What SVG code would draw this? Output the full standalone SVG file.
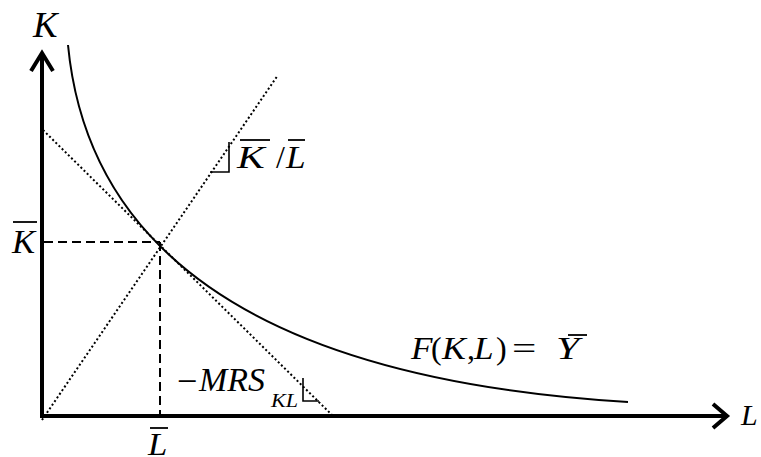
<svg xmlns="http://www.w3.org/2000/svg" width="761" height="457" viewBox="0 0 761 457">
<style>
.ax{stroke:#000;stroke-width:4;fill:none}
.cv{stroke:#000;stroke-width:2;fill:none}
.dot{stroke:#000;stroke-width:2;fill:none;stroke-dasharray:2 2.4}
.dash{stroke:#000;stroke-width:2;fill:none;stroke-dasharray:9 5}
.ra{stroke:#000;stroke-width:1.6;fill:none}
.bar{stroke:#000;stroke-width:1.8}
.it{font-family:"Liberation Serif","Times New Roman",serif;font-style:italic;fill:#000}
.up{font-family:"Liberation Serif","Times New Roman",serif;fill:#000}
</style>
<rect width="761" height="457" fill="#fff"/>
<g id="connectors">
<path class="dot" d="M42,420 L278,75"/>
<path class="dot" d="M43,130 L333,416"/>
<path class="dash" d="M44,242 H160"/>
<path class="dash" d="M160,242 V414"/>
<path class="cv" d="M68,45 C84,212 204,376 628,402"/>
</g>
<g id="axes">
<path class="ax" d="M42,418 V54"/>
<path class="ax" d="M31,71 L42,53 L53,71"/>
<path class="ax" d="M40,416 H725"/>
<path class="ax" d="M713,404 L727,416 L713,428"/>
</g>
<g id="label-K-axis"><text class="it" font-size="35" transform="translate(33,37) scale(1.05,1)">K</text></g>
<g id="label-L-axis"><text class="it" font-size="30" transform="translate(741,425)">L</text></g>
<g id="label-Kbar">
<text class="it" font-size="33" transform="translate(12,253) scale(1.05,1)">K</text>
<line class="bar" x1="13" y1="222" x2="37" y2="222"/>
</g>
<g id="label-Lbar">
<text class="it" font-size="31" transform="translate(148,455) scale(1.12,1)">L</text>
<line class="bar" x1="150" y1="428" x2="168" y2="428"/>
</g>
<g id="label-ratio">
<path class="ra" d="M229,142 V172 H210"/>
<text class="it" font-size="32" transform="translate(237,168) scale(1.3,1)">K</text>
<text class="up" font-size="32" transform="translate(276,168)">/</text>
<text class="it" font-size="32" transform="translate(286,168) scale(1.1,1)">L</text>
<line class="bar" x1="240" y1="140" x2="270" y2="140"/>
<line class="bar" x1="288" y1="140" x2="305" y2="140"/>
</g>
<g id="label-mrs">
<path class="ra" d="M303,378 V401 H319"/>
<text class="up" font-size="33" transform="translate(177,392) scale(1.1,1)">−</text>
<text class="it" x="199" y="391" font-size="33" textLength="66" lengthAdjust="spacingAndGlyphs">MRS</text>
<text class="it" x="271" y="407" font-size="18" textLength="27" lengthAdjust="spacingAndGlyphs">KL</text>
</g>
<g id="label-F">
<text class="it" font-size="32" transform="translate(411,359) scale(1.1,1)">F</text>
<text class="up" font-size="32" transform="translate(431,359)">(</text>
<text class="it" font-size="32" transform="translate(442,359) scale(1.12,1)">K</text>
<text class="up" font-size="32" transform="translate(467,359)">,</text>
<text class="it" font-size="32" transform="translate(474,359) scale(1.1,1)">L</text>
<text class="up" font-size="32" transform="translate(496,359)">)</text>
<text class="up" font-size="32" transform="translate(512,359) scale(1.35,1)">=</text>
<text class="it" font-size="32" transform="translate(556,359) scale(1.3,1)">Y</text>
<line class="bar" x1="568" y1="335" x2="587" y2="335"/>
</g>
</svg>
